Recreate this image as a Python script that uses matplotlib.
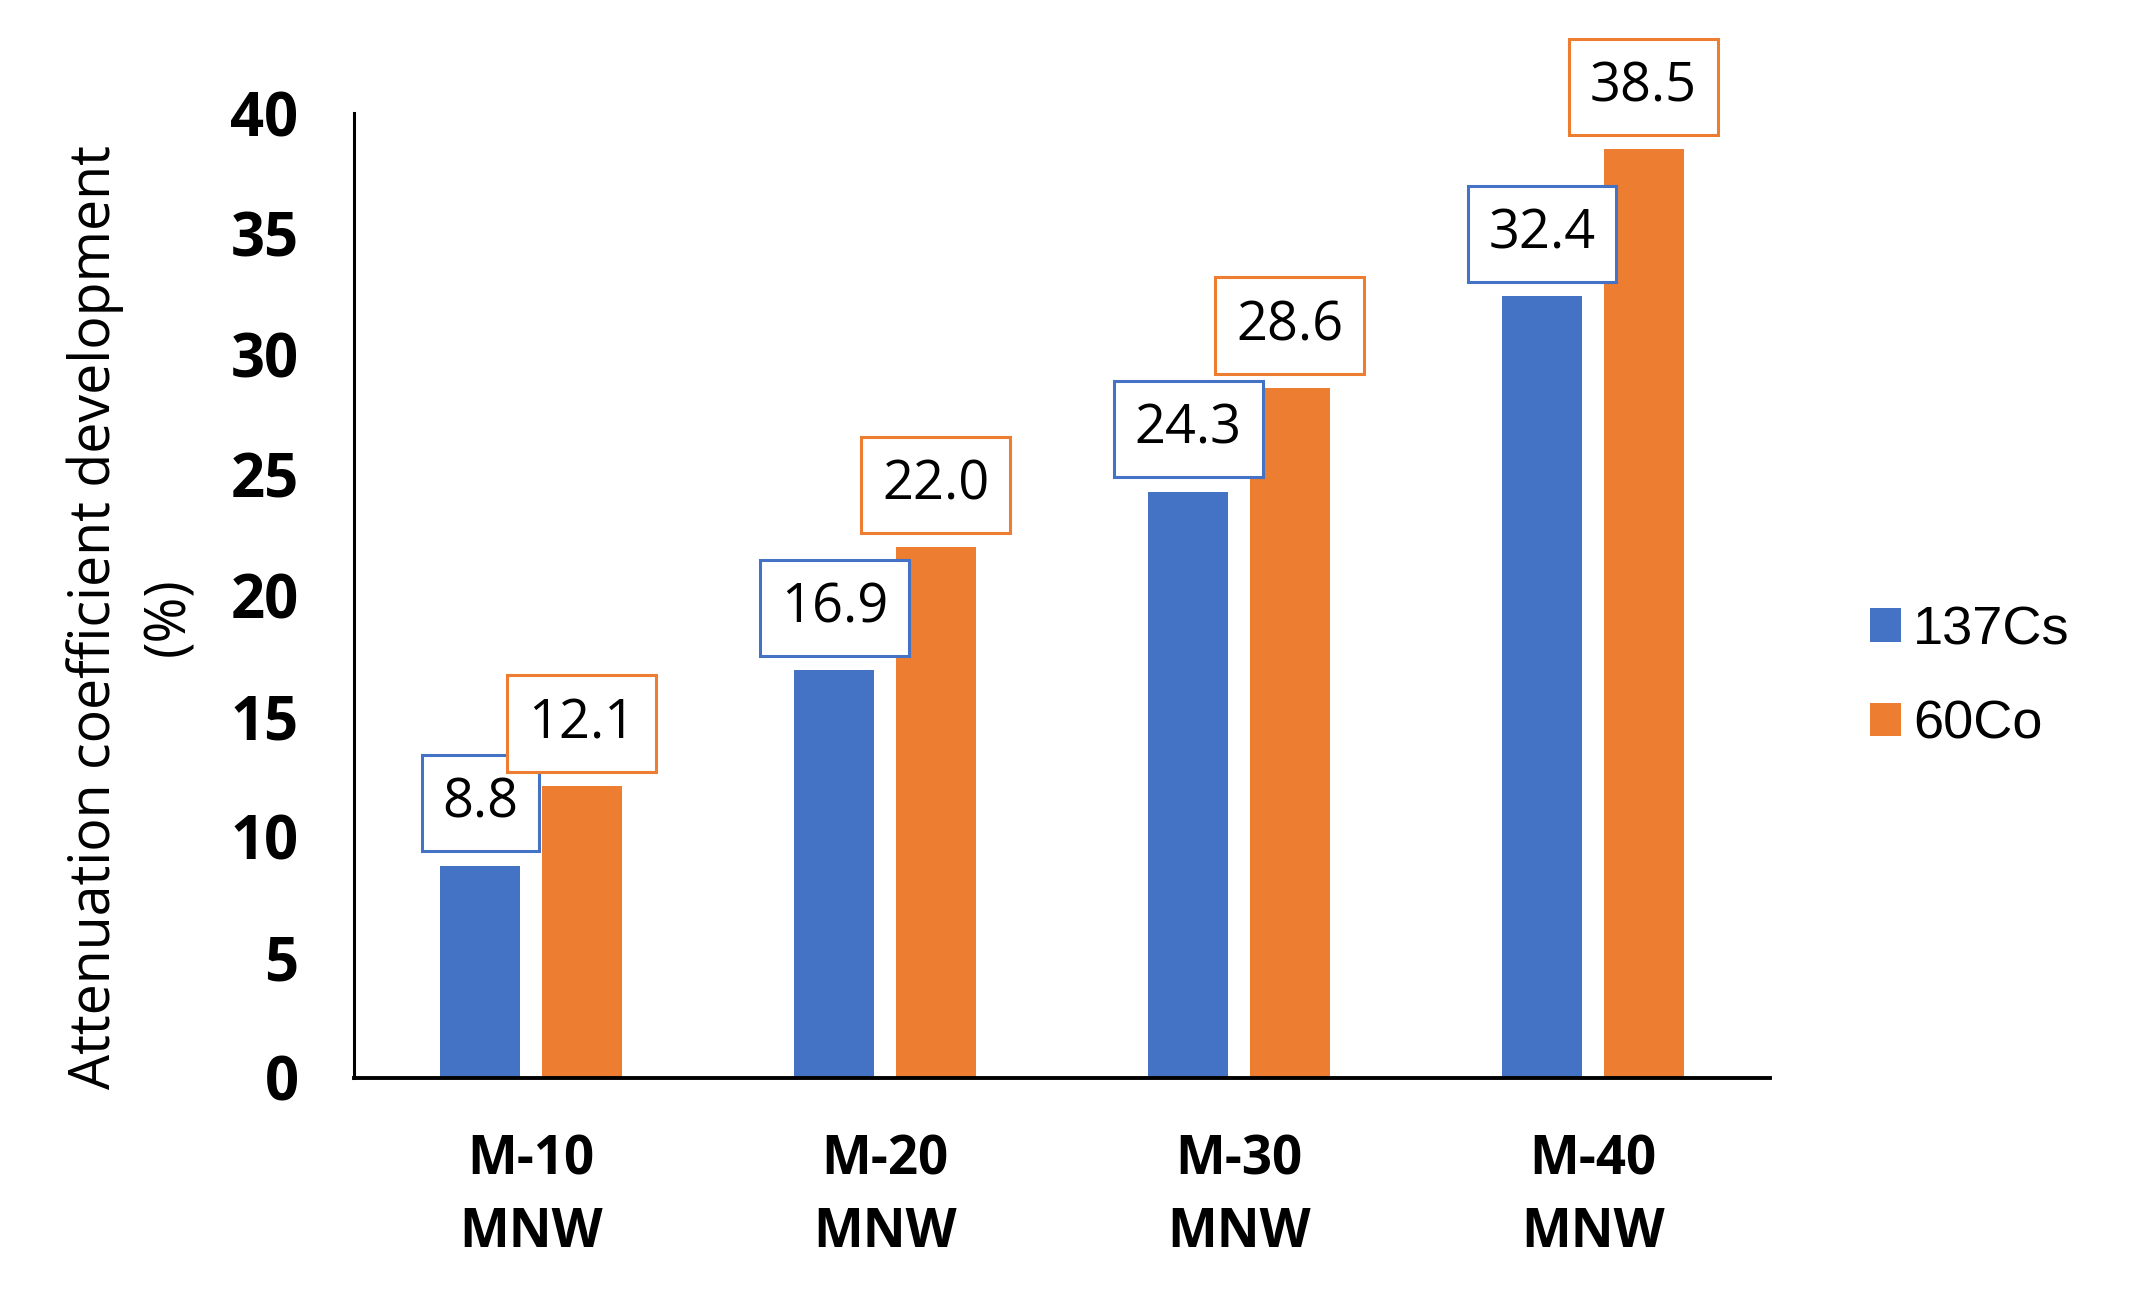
import numpy as np
import matplotlib
matplotlib.use("Agg")
import matplotlib.pyplot as plt

plt.rcParams['font.family'] = ['Open Sans', 'DejaVu Sans']

# data
categories = ['M-10\nMNW', 'M-20\nMNW', 'M-30\nMNW', 'M-40\nMNW']
cs137 = [8.8, 16.9, 24.3, 32.4]
co60 = [12.1, 22.0, 28.6, 38.5]
series_names = ['137Cs', '60Co']

blue = '#4472C4'
orange = '#ED7D31'

fig = plt.figure(figsize=(21.42, 12.95), dpi=100)
ax = fig.add_axes((0.1653, 0.1676, 0.661, 0.7451))

x = np.arange(len(categories)) + 0.5
w = 0.226
off = 0.143

b1 = ax.bar(x - off, cs137, width=w, color=blue, label=series_names[0])
b2 = ax.bar(x + off, co60, width=w, color=orange, label=series_names[1])

# boxed data labels above each bar
for bars, vals, col in [(b1, cs137, blue), (b2, co60, orange)]:
    for rect, v in zip(bars, vals):
        ax.annotate(f'{v:.1f}', xy=(rect.get_x() + rect.get_width() / 2, v),
                    xytext=(0, 45), textcoords='offset points',
                    ha='center', va='center', fontsize=39,
                    bbox=dict(boxstyle='square,pad=0.38', fc='white', ec=col, lw=2.2))

ax.set_xlim(0, 4)
ax.set_ylim(0, 40)
ax.set_yticks(np.arange(0, 41, 5))
ax.set_xticks(x)
ax.set_xticklabels(categories, fontsize=38, fontweight='bold', linespacing=1.45)
for lab in ax.get_yticklabels():
    lab.set_fontsize(43)
    lab.set_fontweight('bold')
ax.tick_params(axis='y', length=0, pad=40)
ax.tick_params(axis='x', length=0, pad=40)

for s in ['top', 'right']:
    ax.spines[s].set_visible(False)
ax.spines['left'].set_linewidth(2.2)
ax.spines['bottom'].set_linewidth(2.8)

fig.text(0.0617, 0.5236, 'Attenuation coefficient development\n(%)',
         rotation=90, ha='center', va='center', multialignment='center',
         fontsize=40, linespacing=1.42)

fig.legend(handles=[b1, b2], loc='center left', bbox_to_anchor=(0.873, 0.477),
           frameon=False, prop={'family': 'Liberation Sans', 'size': 39},
           handlelength=0.58, handleheight=0.58, handletextpad=0.22,
           labelspacing=0.82, borderpad=0, borderaxespad=0)

fig.savefig('out.png', dpi=100)
